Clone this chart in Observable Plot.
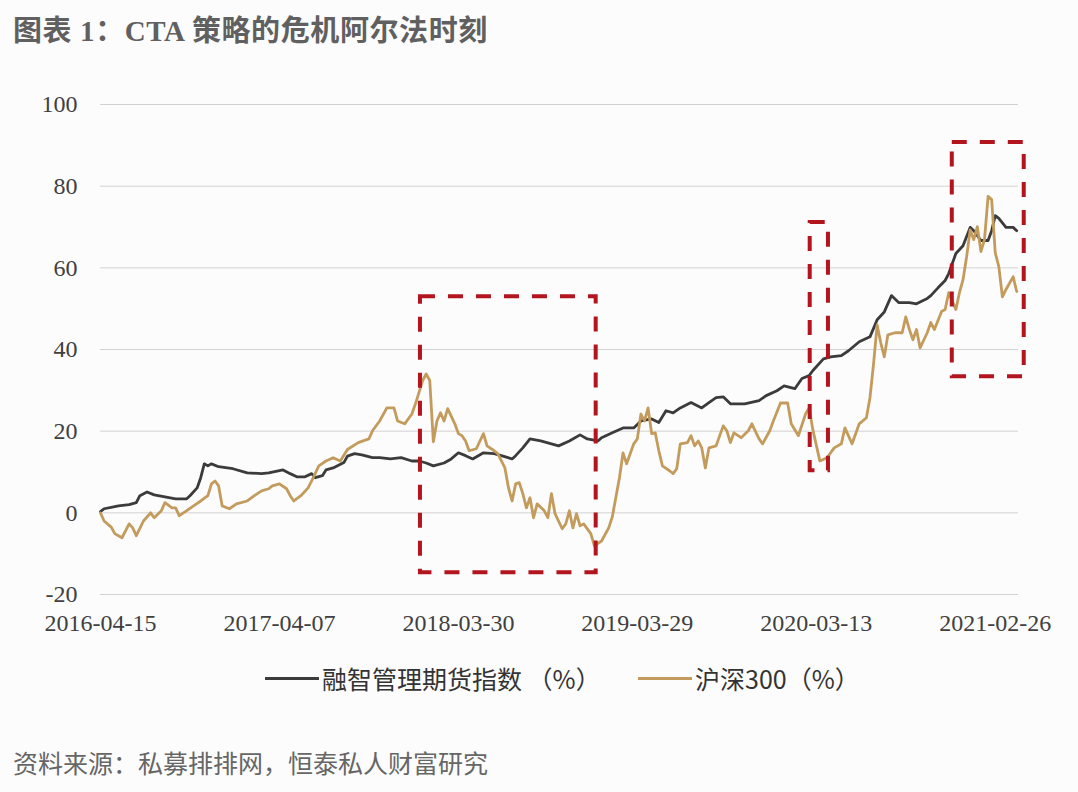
<!DOCTYPE html>
<html><head><meta charset="utf-8">
<script src="https://cdn.jsdelivr.net/npm/d3@7"></script>
<script src="https://cdn.jsdelivr.net/npm/@observablehq/plot@0.6"></script>
<style>
body{margin:0;background:#fcfcfc;}
#wrap{position:relative;width:1078px;height:792px;background:#fcfcfc;overflow:hidden;}
#title{position:absolute;left:13px;top:13px;font-family:"Liberation Serif","Noto Sans CJK SC",serif;font-size:29px;letter-spacing:0.6px;font-weight:bold;color:#606060;white-space:nowrap;line-height:36px;}
#chart{position:absolute;left:0;top:70px;}
.leg{position:absolute;top:663px;display:flex;align-items:center;font-family:"Noto Sans CJK SC",sans-serif;font-size:25px;color:#333;white-space:nowrap;line-height:30px;}
.sw{display:inline-block;width:54px;height:3px;margin-right:3px;}
#caption{position:absolute;left:13px;top:747px;font-family:"Noto Sans CJK SC",sans-serif;font-size:25px;color:#666;white-space:nowrap;line-height:30px;}
</style></head>
<body><div id="wrap">
<div id="title">图表 1：CTA 策略的危机阿尔法时刻</div>
<div id="chart"></div>
<div class="leg" style="left:265px"><span class="sw" style="background:#3b3b3b"></span><span id="leg1"></span></div>
<div class="leg" style="left:638px"><span class="sw" style="background:#c39b5c"></span><span id="leg2"></span></div>
<div id="caption">资料来源：私募排排网，恒泰私人财富研究</div>
</div>
<script>
// Series names
const seriesNames = ["融智管理期货指数（%）", "沪深300（%）"];

// 融智管理期货指数 (%) — week index and value
const ctaWeek = [0,1,5,8,10,11,13,15,18,21,24,25,27,28,29,30,31,33,37,41,45,47,51,53,55,57,59,60,62,63,65,68,69,71,73,76,78,81,84,87,89,91,93,96,98,100,102,104,107,110,112,115,116,118,120,123,126,128,131,134,136,139,140,143,146,149,151,154,156,158,160,162,165,168,170,172,174,176,180,184,186,189,191,194,196,198,199,202,204,207,209,212,215,217,219,221,223,226,228,231,232,234,236,237,239,241,243,244,246,248,249,250,251,253,255,256];
const ctaValue = [0.3,1.0,1.7,2.0,2.5,4.2,5.1,4.4,3.9,3.4,3.4,4.2,6.1,8.6,12.0,11.5,12.0,11.3,10.8,9.8,9.6,9.8,10.5,9.6,8.8,8.8,9.6,8.6,9.1,10.5,11.0,12.3,13.9,14.5,14.2,13.5,13.5,13.2,13.5,12.7,12.7,12.2,11.5,12.2,13.2,14.7,14.0,13.2,14.7,14.5,14.0,13.2,14.0,15.9,18.1,17.6,16.9,16.4,17.6,19.1,18.1,17.6,18.4,19.6,20.8,20.8,22.5,23.0,22.1,25.0,24.5,25.7,27.0,25.7,27.0,28.2,28.4,26.7,26.7,27.5,28.7,29.9,31.1,30.4,32.9,33.6,34.8,37.7,38.2,38.5,39.7,41.9,43.1,47.3,49.2,53.2,51.5,51.5,51.2,52.5,53.2,55.1,56.9,58.6,63.5,65.4,69.9,69.1,66.7,66.7,69.1,72.8,72.1,69.9,69.9,69.1];

// 沪深300 (%) — week index and value
const hsWeek = [0,1,3,4,5,6,8,9,10,12,14,15,17,18,20,21,22,24,26,28,30,31,32,33,34,36,38,41,43,45,47,48,50,52,53,54,56,58,59,61,63,65,67,69,72,75,76,78,80,82,83,85,87,88,89,90,91,92,93,94,95,96,97,99,100,101,102,103,105,107,108,110,111,113,114,115,116,117,118,119,120,121,122,124,125,126,127,129,130,131,132,133,134,135,137,138,140,142,143,145,146,147,149,150,151,152,153,154,155,156,157,159,160,161,162,164,165,166,167,168,169,170,172,174,175,176,177,179,181,182,184,185,187,188,190,192,193,195,197,198,199,201,203,205,207,208,210,212,214,215,216,217,218,219,220,222,224,225,226,227,228,229,231,232,233,235,236,237,239,240,241,242,243,244,245,246,247,248,249,250,251,252,253,255,256];
const hsValue = [0,-2.0,-3.5,-5.1,-5.6,-6.1,-2.7,-3.7,-5.6,-2.0,0,-1.2,0.5,2.5,1.2,1.2,-0.7,0.5,1.7,2.9,4.2,7.1,7.8,6.6,1.7,1.0,2.2,2.9,4.2,5.4,5.9,6.6,7.1,5.9,4.2,2.9,4.2,6.1,7.8,11.5,12.7,13.5,12.7,15.5,17.2,18.1,20.1,22.5,25.7,25.7,22.5,21.8,24.2,26.7,29.5,32.4,34.0,32.4,17.4,22.5,24.5,22.5,25.5,21.8,19.4,18.9,17.6,15.2,15.7,19.4,16.4,15.2,14.5,11.0,6.1,2.9,7.1,7.4,4.7,1.2,3.7,-1.2,2.2,0.5,-1.2,4.7,-0.2,-3.9,-2.7,0.5,-3.7,-0.2,-3.2,-2.7,-5.1,-8.1,-6.9,-3.7,-1.0,8.6,14.7,12.0,16.9,18.1,24.2,22.5,25.7,19.4,19.6,15.2,11.5,10.3,9.6,10.8,16.9,17.2,18.9,16.4,17.6,15.9,11.0,15.9,16.4,21.3,20.1,17.2,19.6,18.4,20.1,21.8,18.1,16.9,20.1,22.5,26.9,26.9,21.8,18.9,24.2,25.7,20.5,12.7,13.5,15.9,16.9,20.8,16.9,21.8,23.3,28.2,36.5,46.0,41.7,38.2,43.6,44.1,44.1,48.0,44.9,42.4,44.9,40.4,44.1,46.6,44.9,49.3,49.8,53.9,49.8,53.9,57.1,62.7,69.3,66.9,70.1,64.0,66.9,77.5,76.7,63.7,60.3,52.9,54.7,57.8,54.2];

// Axis ticks
const tickWeeks = [0,50,100,150,200,250];
const tickLabels = ["2016-04-15","2017-04-07","2018-03-30","2019-03-29","2020-03-13","2021-02-26"];
const yTicks = [-20,0,20,40,60,80,100];

// Highlighted crisis windows (week range, value range)
const boxStart = [89.4, 198.3, 238.0];
const boxEnd = [138.5, 203.4, 258.1];
const boxLow = [-14.7, 10.3, 33.3];
const boxHigh = [52.9, 71.1, 90.7];

const cta = ctaWeek.map((w,i)=>({week:w, value:ctaValue[i]}));
const hs = hsWeek.map((w,i)=>({week:w, value:hsValue[i]}));
const boxes = boxStart.map((s,i)=>({x1:s, x2:boxEnd[i], y1:boxLow[i], y2:boxHigh[i]}));

document.getElementById("leg1").textContent = seriesNames[0].replace("（"," （");
document.getElementById("leg2").textContent = seriesNames[1];

const chart = Plot.plot({
  width:1078, height:570,
  marginLeft:100, marginRight:60, marginTop:34, marginBottom:46,
  style:{background:"transparent", fontFamily:"'Liberation Serif', serif", fontSize:"24px", color:"#404040", overflow:"visible"},
  x:{domain:[0,256.5], ticks:tickWeeks, tickFormat:w=>tickLabels[tickWeeks.indexOf(w)], tickSize:0, tickPadding:19, label:null},
  y:{domain:[-20,100], ticks:yTicks, tickFormat:v=>String(v), tickSize:0, tickPadding:23, label:null},
  marks:[
    Plot.ruleY(yTicks,{stroke:"#d2d2d2", strokeWidth:1}),
    Plot.line(cta,{x:"week", y:"value", stroke:"#3b3b3b", strokeWidth:2.8}),
    Plot.line(hs,{x:"week", y:"value", stroke:"#c39b5c", strokeWidth:2.8}),
    Plot.rect(boxes,{x1:"x1", x2:"x2", y1:"y1", y2:"y2", fill:"none", stroke:"#b3151f", strokeWidth:4, strokeDasharray:"15,13"})
  ]
});
document.getElementById("chart").appendChild(chart);
</script>
</body></html>
